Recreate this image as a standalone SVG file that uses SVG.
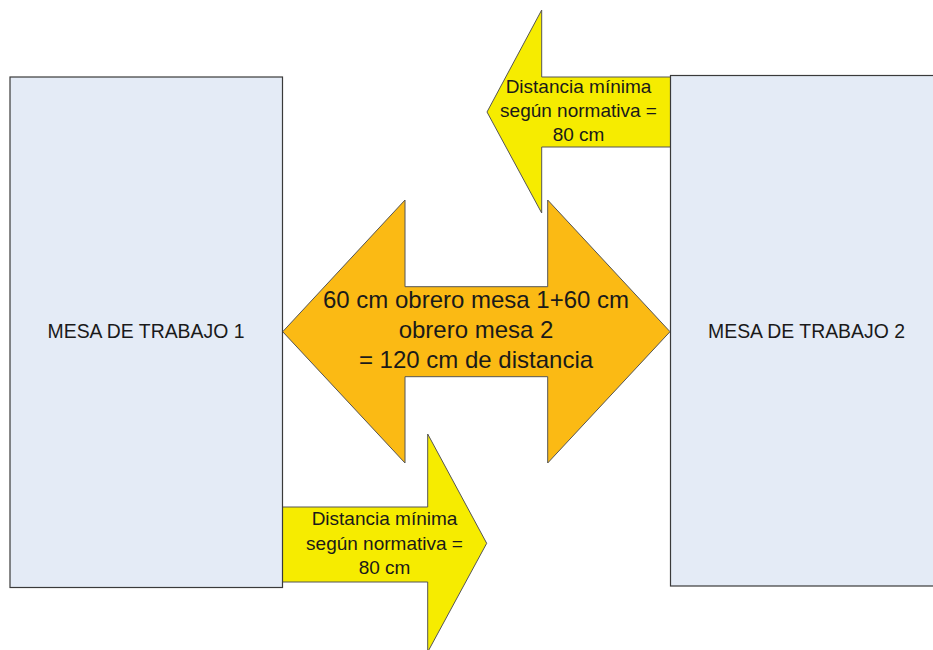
<svg xmlns="http://www.w3.org/2000/svg" width="933" height="650" viewBox="0 0 933 650">
<style>
.box{fill:#E4EBF6;stroke:#3a3a3a;stroke-width:1.2}
.yel{fill:#F6EC00;stroke:#555;stroke-width:1}
.org{fill:#FBBA14;stroke:#555;stroke-width:1}
text{font-family:"Liberation Sans",Arial,sans-serif;fill:#1a1a1a;text-anchor:middle}
.lbl{font-size:19.4px}
.ytxt{font-size:19px}
.otxt{font-size:24px}
</style>
<rect width="933" height="650" fill="#ffffff"/>
<g id="connectors">
  <g id="arrow-top">
    <polygon class="yel" points="487,112 541.7,10 541.7,77 672,77 672,147 541.7,147 541.7,213"/>
    <text class="ytxt" x="578.5" y="93">Distancia mínima</text>
    <text class="ytxt" x="578.5" y="117">según normativa =</text>
    <text class="ytxt" x="578.5" y="141">80 cm</text>
  </g>
  <g id="arrow-bottom">
    <polygon class="yel" points="282,507 427.7,507 427.7,434 486.7,543.3 427.7,652 427.7,582 282,582"/>
    <text class="ytxt" x="384.5" y="525">Distancia mínima</text>
    <text class="ytxt" x="384.5" y="550">según normativa =</text>
    <text class="ytxt" x="384.5" y="574">80 cm</text>
  </g>
  <g id="arrow-double">
    <polygon class="org" points="282.7,331.7 405,200 405,286.7 547.7,286.7 547.7,200 670,331.7 547.7,463 547.7,376.7 405,376.7 405,463"/>
    <text class="otxt" x="476" y="308">60 cm obrero mesa 1+60 cm</text>
    <text class="otxt" x="476" y="338">obrero mesa 2</text>
    <text class="otxt" x="476" y="368">= 120 cm de distancia</text>
  </g>
</g>
<g id="mesa1">
  <rect class="box" x="10" y="77" width="272.5" height="510.5"/>
  <text class="lbl" x="146" y="338.3">MESA DE TRABAJO 1</text>
</g>
<g id="mesa2">
  <rect class="box" x="670.5" y="75.5" width="280" height="510.5"/>
  <text class="lbl" x="806.5" y="338.3">MESA DE TRABAJO 2</text>
</g>
</svg>
